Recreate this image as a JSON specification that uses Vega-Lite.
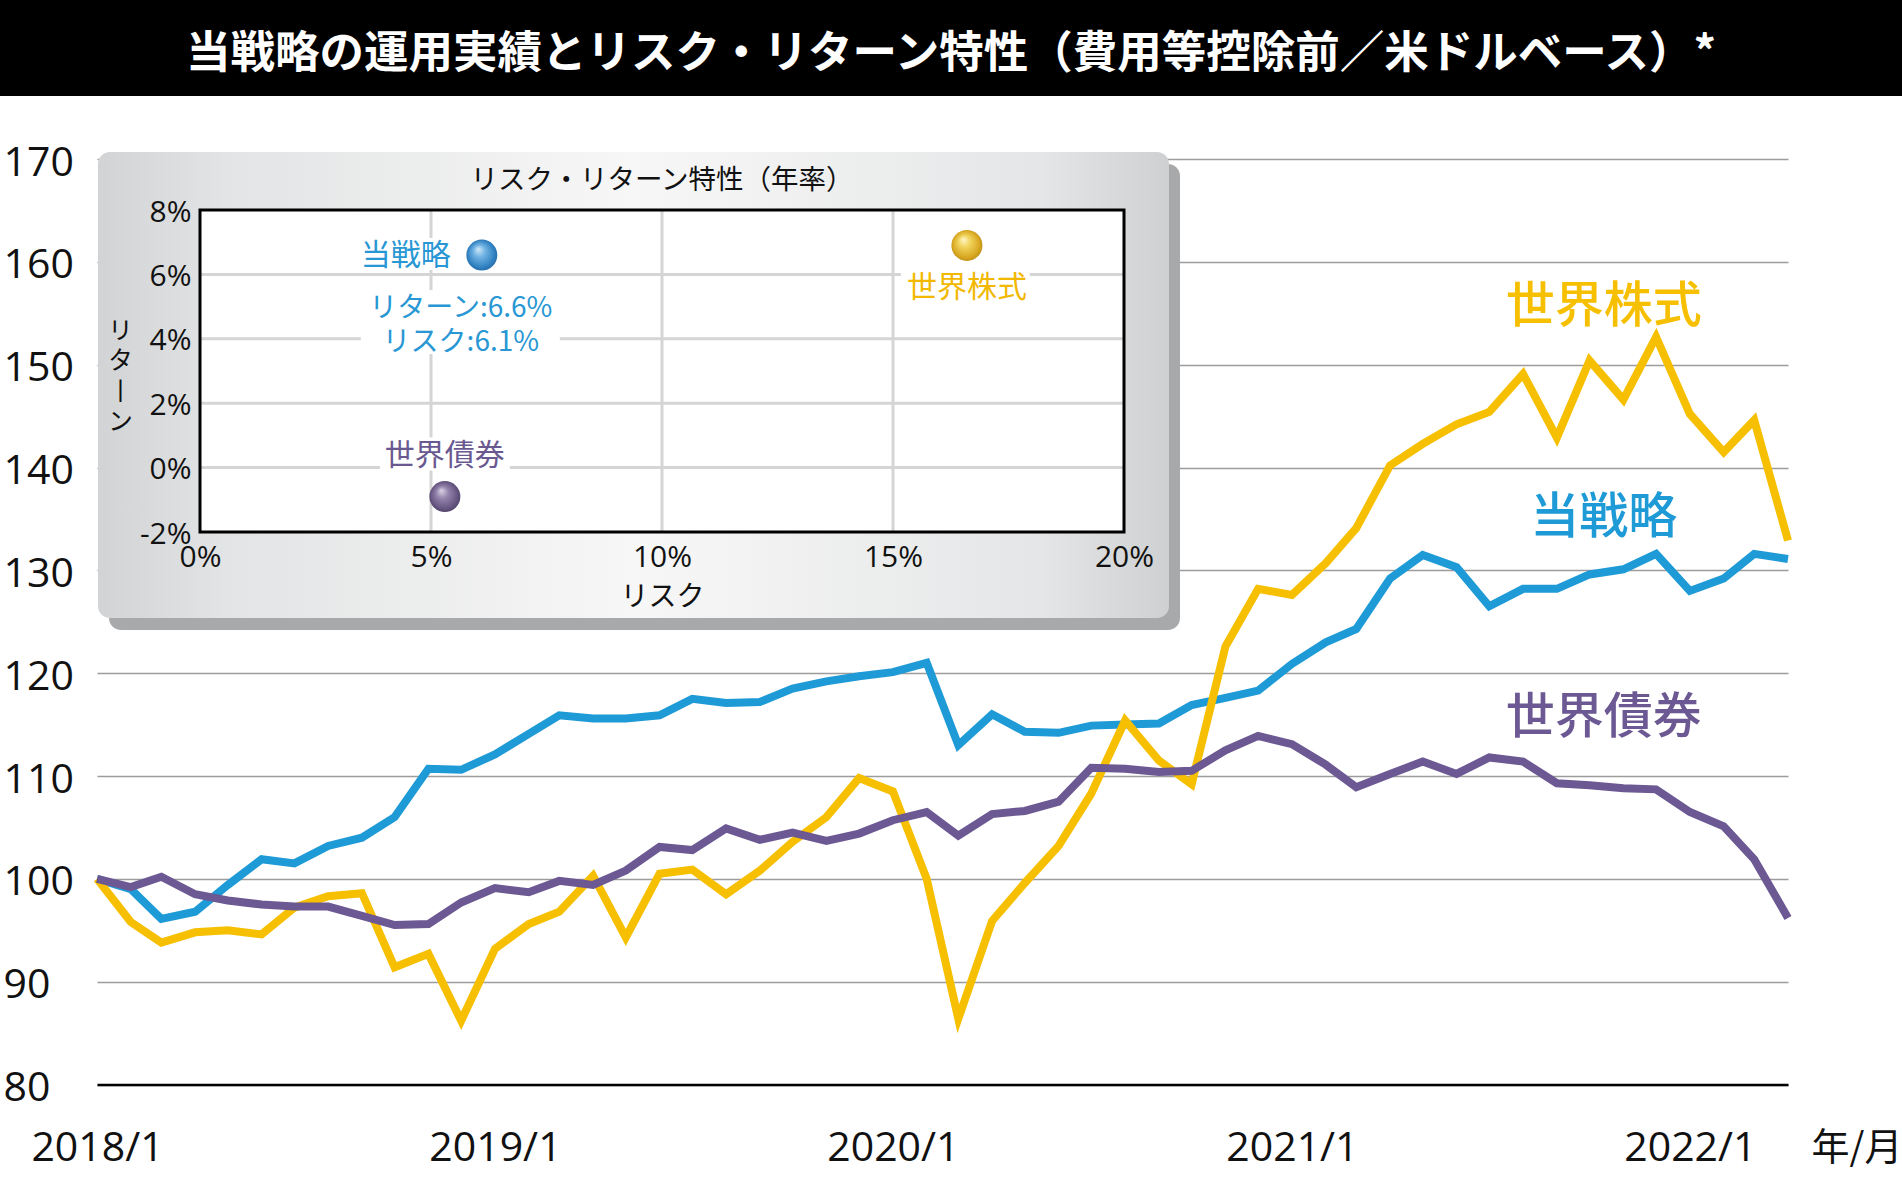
{
  "$schema": "https://vega.github.io/schema/vega-lite/v6.json",
  "padding": 0,
  "spacing": 0,
  "bounds": "flush",
  "config": {
    "view": {"stroke": null},
    "font": "Open Sans",
    "axis": {"labelFont": "Open Sans", "titleFont": "Noto Sans CJK JP", "labelColor": "#111111", "titleColor": "#111111"}
  },
  "datasets": {
    "perf": [
      {"date":"2018-01-01","s":"当戦略","v":100.0},{"date":"2018-02-01","s":"当戦略","v":99.0},{"date":"2018-03-01","s":"当戦略","v":96.1},{"date":"2018-04-01","s":"当戦略","v":96.8},{"date":"2018-05-01","s":"当戦略","v":99.4},{"date":"2018-06-01","s":"当戦略","v":101.9},{"date":"2018-07-01","s":"当戦略","v":101.5},{"date":"2018-08-01","s":"当戦略","v":103.2},{"date":"2018-09-01","s":"当戦略","v":104.0},{"date":"2018-10-01","s":"当戦略","v":106.0},{"date":"2018-11-01","s":"当戦略","v":110.7},{"date":"2018-12-01","s":"当戦略","v":110.6},
      {"date":"2019-01-01","s":"当戦略","v":112.1},{"date":"2019-02-01","s":"当戦略","v":114.1},{"date":"2019-03-01","s":"当戦略","v":115.9},{"date":"2019-04-01","s":"当戦略","v":115.6},{"date":"2019-05-01","s":"当戦略","v":115.6},{"date":"2019-06-01","s":"当戦略","v":115.9},{"date":"2019-07-01","s":"当戦略","v":117.5},{"date":"2019-08-01","s":"当戦略","v":117.1},{"date":"2019-09-01","s":"当戦略","v":117.2},{"date":"2019-10-01","s":"当戦略","v":118.5},{"date":"2019-11-01","s":"当戦略","v":119.2},{"date":"2019-12-01","s":"当戦略","v":119.7},
      {"date":"2020-01-01","s":"当戦略","v":120.1},{"date":"2020-02-01","s":"当戦略","v":121.0},{"date":"2020-03-01","s":"当戦略","v":113.0},{"date":"2020-04-01","s":"当戦略","v":116.0},{"date":"2020-05-01","s":"当戦略","v":114.3},{"date":"2020-06-01","s":"当戦略","v":114.2},{"date":"2020-07-01","s":"当戦略","v":114.9},{"date":"2020-08-01","s":"当戦略","v":115.0},{"date":"2020-09-01","s":"当戦略","v":115.1},{"date":"2020-10-01","s":"当戦略","v":116.9},{"date":"2020-11-01","s":"当戦略","v":117.6},{"date":"2020-12-01","s":"当戦略","v":118.3},
      {"date":"2021-01-01","s":"当戦略","v":120.9},{"date":"2021-02-01","s":"当戦略","v":123.0},{"date":"2021-03-01","s":"当戦略","v":124.3},{"date":"2021-04-01","s":"当戦略","v":129.2},{"date":"2021-05-01","s":"当戦略","v":131.5},{"date":"2021-06-01","s":"当戦略","v":130.3},{"date":"2021-07-01","s":"当戦略","v":126.5},{"date":"2021-08-01","s":"当戦略","v":128.2},{"date":"2021-09-01","s":"当戦略","v":128.2},{"date":"2021-10-01","s":"当戦略","v":129.6},{"date":"2021-11-01","s":"当戦略","v":130.1},{"date":"2021-12-01","s":"当戦略","v":131.6},
      {"date":"2022-01-01","s":"当戦略","v":128.0},{"date":"2022-02-01","s":"当戦略","v":129.2},{"date":"2022-03-01","s":"当戦略","v":131.6},{"date":"2022-04-01","s":"当戦略","v":131.1},
      {"date":"2018-01-01","s":"世界株式","v":100.0},{"date":"2018-02-01","s":"世界株式","v":95.8},{"date":"2018-03-01","s":"世界株式","v":93.8},{"date":"2018-04-01","s":"世界株式","v":94.8},{"date":"2018-05-01","s":"世界株式","v":95.0},{"date":"2018-06-01","s":"世界株式","v":94.6},{"date":"2018-07-01","s":"世界株式","v":97.2},{"date":"2018-08-01","s":"世界株式","v":98.3},{"date":"2018-09-01","s":"世界株式","v":98.6},{"date":"2018-10-01","s":"世界株式","v":91.4},{"date":"2018-11-01","s":"世界株式","v":92.7},{"date":"2018-12-01","s":"世界株式","v":86.2},
      {"date":"2019-01-01","s":"世界株式","v":93.2},{"date":"2019-02-01","s":"世界株式","v":95.6},{"date":"2019-03-01","s":"世界株式","v":96.8},{"date":"2019-04-01","s":"世界株式","v":100.3},{"date":"2019-05-01","s":"世界株式","v":94.3},{"date":"2019-06-01","s":"世界株式","v":100.5},{"date":"2019-07-01","s":"世界株式","v":100.9},{"date":"2019-08-01","s":"世界株式","v":98.5},{"date":"2019-09-01","s":"世界株式","v":100.8},{"date":"2019-10-01","s":"世界株式","v":103.6},{"date":"2019-11-01","s":"世界株式","v":106.0},{"date":"2019-12-01","s":"世界株式","v":109.8},
      {"date":"2020-01-01","s":"世界株式","v":108.5},{"date":"2020-02-01","s":"世界株式","v":100.0},{"date":"2020-03-01","s":"世界株式","v":86.4},{"date":"2020-04-01","s":"世界株式","v":95.9},{"date":"2020-05-01","s":"世界株式","v":99.6},{"date":"2020-06-01","s":"世界株式","v":103.2},{"date":"2020-07-01","s":"世界株式","v":108.3},{"date":"2020-08-01","s":"世界株式","v":115.4},{"date":"2020-09-01","s":"世界株式","v":111.5},{"date":"2020-10-01","s":"世界株式","v":109.2},{"date":"2020-11-01","s":"世界株式","v":122.6},{"date":"2020-12-01","s":"世界株式","v":128.2},
      {"date":"2021-01-01","s":"世界株式","v":127.6},{"date":"2021-02-01","s":"世界株式","v":130.7},{"date":"2021-03-01","s":"世界株式","v":134.1},{"date":"2021-04-01","s":"世界株式","v":140.2},{"date":"2021-05-01","s":"世界株式","v":142.3},{"date":"2021-06-01","s":"世界株式","v":144.2},{"date":"2021-07-01","s":"世界株式","v":145.4},{"date":"2021-08-01","s":"世界株式","v":149.1},{"date":"2021-09-01","s":"世界株式","v":142.9},{"date":"2021-10-01","s":"世界株式","v":150.4},{"date":"2021-11-01","s":"世界株式","v":146.6},{"date":"2021-12-01","s":"世界株式","v":152.7},
      {"date":"2022-01-01","s":"世界株式","v":145.2},{"date":"2022-02-01","s":"世界株式","v":141.5},{"date":"2022-03-01","s":"世界株式","v":144.6},{"date":"2022-04-01","s":"世界株式","v":132.9},
      {"date":"2018-01-01","s":"世界債券","v":100.0},{"date":"2018-02-01","s":"世界債券","v":99.2},{"date":"2018-03-01","s":"世界債券","v":100.2},{"date":"2018-04-01","s":"世界債券","v":98.5},{"date":"2018-05-01","s":"世界債券","v":97.9},{"date":"2018-06-01","s":"世界債券","v":97.5},{"date":"2018-07-01","s":"世界債券","v":97.3},{"date":"2018-08-01","s":"世界債券","v":97.3},{"date":"2018-09-01","s":"世界債券","v":96.4},{"date":"2018-10-01","s":"世界債券","v":95.5},{"date":"2018-11-01","s":"世界債券","v":95.6},{"date":"2018-12-01","s":"世界債券","v":97.7},
      {"date":"2019-01-01","s":"世界債券","v":99.1},{"date":"2019-02-01","s":"世界債券","v":98.7},{"date":"2019-03-01","s":"世界債券","v":99.8},{"date":"2019-04-01","s":"世界債券","v":99.4},{"date":"2019-05-01","s":"世界債券","v":100.8},{"date":"2019-06-01","s":"世界債券","v":103.1},{"date":"2019-07-01","s":"世界債券","v":102.8},{"date":"2019-08-01","s":"世界債券","v":104.9},{"date":"2019-09-01","s":"世界債券","v":103.8},{"date":"2019-10-01","s":"世界債券","v":104.5},{"date":"2019-11-01","s":"世界債券","v":103.7},{"date":"2019-12-01","s":"世界債券","v":104.4},
      {"date":"2020-01-01","s":"世界債券","v":105.7},{"date":"2020-02-01","s":"世界債券","v":106.5},{"date":"2020-03-01","s":"世界債券","v":104.2},{"date":"2020-04-01","s":"世界債券","v":106.3},{"date":"2020-05-01","s":"世界債券","v":106.6},{"date":"2020-06-01","s":"世界債券","v":107.5},{"date":"2020-07-01","s":"世界債券","v":110.8},{"date":"2020-08-01","s":"世界債券","v":110.7},{"date":"2020-09-01","s":"世界債券","v":110.4},{"date":"2020-10-01","s":"世界債券","v":110.5},{"date":"2020-11-01","s":"世界債券","v":112.5},{"date":"2020-12-01","s":"世界債券","v":113.9},
      {"date":"2021-01-01","s":"世界債券","v":113.1},{"date":"2021-02-01","s":"世界債券","v":111.1},{"date":"2021-03-01","s":"世界債券","v":108.9},{"date":"2021-04-01","s":"世界債券","v":110.2},{"date":"2021-05-01","s":"世界債券","v":111.4},{"date":"2021-06-01","s":"世界債券","v":110.2},{"date":"2021-07-01","s":"世界債券","v":111.8},{"date":"2021-08-01","s":"世界債券","v":111.4},{"date":"2021-09-01","s":"世界債券","v":109.3},{"date":"2021-10-01","s":"世界債券","v":109.1},{"date":"2021-11-01","s":"世界債券","v":108.8},{"date":"2021-12-01","s":"世界債券","v":108.7},
      {"date":"2022-01-01","s":"世界債券","v":106.5},{"date":"2022-02-01","s":"世界債券","v":105.1},{"date":"2022-03-01","s":"世界債券","v":101.9},{"date":"2022-04-01","s":"世界債券","v":96.2}
    ],
    "seriesLabels": [
      {"s": "世界株式", "date": "2021-10-14", "v": 155.6},
      {"s": "当戦略", "date": "2021-10-14", "v": 135.1},
      {"s": "世界債券", "date": "2021-10-14", "v": 115.6}
    ],
    "rr": [
      {"name": "当戦略", "risk": 6.1, "ret": 6.6, "note": "リターン:6.6%\nリスク:6.1%"},
      {"name": "世界株式", "risk": 16.6, "ret": 6.9, "note": ""},
      {"name": "世界債券", "risk": 5.3, "ret": -0.9, "note": ""}
    ]
  },
  "vconcat": [
    {
      "width": 1902,
      "height": 96,
      "view": {"fill": "#000000", "stroke": null},
      "data": {"values": [{"title": "当戦略の運用実績とリスク・リターン特性（費用等控除前／米ドルベース）*"}]},
      "mark": {"type": "text", "color": "#ffffff", "font": "Noto Sans CJK JP", "fontSize": 44.5, "fontWeight": "bold", "baseline": "middle", "align": "center", "dy": 6.5},
      "encoding": {"text": {"field": "title", "type": "nominal"}}
    },
    {
      "width": 1902,
      "height": 1105,
      "layer": [
        {
          "data": {"name": "perf"},
          "layer": [
            {
              "mark": {"type": "line", "strokeWidth": 8, "strokeJoin": "miter", "strokeCap": "butt"},
              "encoding": {
                "x": {
                  "field": "date", "type": "temporal",
                  "scale": {"type": "utc", "domain": [{"year": 2018, "month": 1, "date": 1, "utc": true}, {"year": 2022, "month": 4, "date": 1, "utc": true}], "range": [97, 1788], "nice": false},
                  "axis": {
                    "orient": "bottom", "offset": -116.5, "zindex": 1,
                    "values": [{"year": 2018, "month": 1, "date": 1, "utc": true}, {"year": 2019, "month": 1, "date": 1, "utc": true}, {"year": 2020, "month": 1, "date": 1, "utc": true}, {"year": 2021, "month": 1, "date": 1, "utc": true}, {"year": 2022, "month": 1, "date": 1, "utc": true}],
                    "labelExpr": "utcFormat(datum.value, '%Y/%-m')",
                    "grid": false, "ticks": false, "domain": true, "domainColor": "#000000", "domainWidth": 2.5,
                    "labelFontSize": 41, "labelPadding": 44, "labelFlush": false, "labelOverlap": false,
                    "title": "年/月", "titleFontSize": 38, "titleFontWeight": "normal", "titleX": 1811, "titleY": 64, "titleAlign": "left", "titleBaseline": "middle", "titleAngle": 0
                  }
                },
                "y": {
                  "field": "v", "type": "quantitative",
                  "scale": {"domain": [80, 170], "range": [988.5, 63], "nice": false, "zero": false},
                  "axis": {
                    "orient": "left", "values": [80, 90, 100, 110, 120, 130, 140, 150, 160, 170],
                    "grid": true, "gridColor": "#9c9c9c", "gridWidth": 1.5, "domain": false, "ticks": false,
                    "labelAlign": "left", "labelPadding": -3, "labelOffset": 4, "labelFontSize": 41, "labelOverlap": false,
                    "title": null
                  }
                },
                "color": {
                  "field": "s", "type": "nominal",
                  "scale": {"domain": ["当戦略", "世界株式", "世界債券"], "range": ["#1e9ad6", "#f6bf00", "#6c5892"]},
                  "legend": null
                }
              }
            },
            {
              "data": {"name": "seriesLabels"},
              "mark": {"type": "text", "font": "Noto Sans CJK JP", "fontSize": 49, "fontWeight": 500, "align": "center", "baseline": "middle"},
              "encoding": {
                "x": {"field": "date", "type": "temporal"},
                "y": {"field": "v", "type": "quantitative"},
                "text": {"field": "s", "type": "nominal"},
                "color": {"field": "s", "type": "nominal", "legend": null}
              }
            }
          ]
        },
        {
          "data": {"values": [{}]},
          "layer": [
            {
              "mark": {"type": "rect", "fill": "#a8a9aa", "cornerRadius": 12, "xOffset": 11, "x2Offset": 11, "yOffset": 12, "y2Offset": 12},
              "encoding": {"x": {"datum": -2.208}, "x2": {"datum": 20.974}, "y": {"datum": 9.801}, "y2": {"datum": -4.671}}
            },
            {
              "mark": {"type": "rect", "cornerRadius": 12, "fill": {"gradient": "linear", "x1": 0, "y1": 0, "x2": 1, "y2": 0, "stops": [{"offset": 0, "color": "#d2d3d4"}, {"offset": 0.12, "color": "#e3e4e5"}, {"offset": 0.5, "color": "#f7f7f7"}, {"offset": 0.88, "color": "#e5e6e7"}, {"offset": 1, "color": "#cfd0d1"}]}},
              "encoding": {"x": {"datum": -2.208}, "x2": {"datum": 20.974}, "y": {"datum": 9.801}, "y2": {"datum": -4.671}}
            },
            {
              "mark": {"type": "rect", "fill": "#ffffff"},
              "encoding": {"x": {"datum": 0}, "x2": {"datum": 20}, "y": {"datum": -2}, "y2": {"datum": 8}}
            },
            {
              "data": {"values": [{"v": 5}, {"v": 10}, {"v": 15}]},
              "mark": {"type": "rule", "color": "#d5d5d5", "strokeWidth": 3},
              "encoding": {
                "x": {
                  "field": "v", "type": "quantitative",
                  "scale": {"domain": [0, 20], "range": [200, 1124], "nice": false, "zero": false},
                  "axis": {
                    "orient": "bottom", "offset": -669, "zindex": 1, "values": [0, 5, 10, 15, 20],
                    "labelExpr": "datum.value + '%'", "grid": false, "ticks": false, "domain": false,
                    "labelFontSize": 30, "labelPadding": 10.7, "labelFlush": false, "labelOverlap": false,
                    "title": "リスク", "titleFontSize": 28, "titleFontWeight": "normal", "titleY": 51, "titleBaseline": "top"
                  }
                },
                "y": {"datum": -2},
                "y2": {"datum": 8}
              }
            },
            {
              "data": {"values": [{"v": 0}, {"v": 2}, {"v": 4}, {"v": 6}]},
              "mark": {"type": "rule", "color": "#d5d5d5", "strokeWidth": 3},
              "encoding": {
                "y": {
                  "field": "v", "type": "quantitative",
                  "scale": {"domain": [-2, 8], "range": [436, 114], "nice": false, "zero": false},
                  "axis": {
                    "orient": "left", "offset": -200, "zindex": 1, "values": [-2, 0, 2, 4, 6, 8],
                    "labelExpr": "datum.value + '%'", "grid": false, "ticks": false, "domain": false,
                    "labelFontSize": 30, "labelPadding": 9, "labelOffset": 2, "labelOverlap": false,
                    "title": ["リ", "タ", "丨", "ン"], "titleFontSize": 24.5, "titleFontWeight": "normal", "titleAngle": 0,
                    "titleX": -80, "titleY": 223, "titleAlign": "center", "titleBaseline": "top", "titleLineHeight": 30.5
                  }
                },
                "x": {"datum": 0},
                "x2": {"datum": 20}
              }
            },
            {
              "mark": {"type": "rect", "filled": false, "stroke": "#000000", "strokeWidth": 3},
              "encoding": {"x": {"datum": 0}, "x2": {"datum": 20}, "y": {"datum": -2}, "y2": {"datum": 8}}
            },
            {
              "mark": {"type": "text", "font": "Noto Sans CJK JP", "fontSize": 27.5, "color": "#111111", "align": "center", "baseline": "middle"},
              "encoding": {"x": {"datum": 10}, "y": {"datum": 8.894}, "text": {"value": "リスク・リターン特性（年率）"}}
            },
            {
              "data": {"name": "rr"},
              "transform": [{"filter": "datum.name === '当戦略'"}],
              "mark": {"type": "rect", "fill": "#ffffff", "xOffset": -128, "x2Offset": -26, "yOffset": -17, "y2Offset": 15},
              "encoding": {"x": {"field": "risk", "type": "quantitative"}, "x2": {"field": "risk"}, "y": {"field": "ret", "type": "quantitative"}, "y2": {"field": "ret"}}
            },
            {
              "data": {"name": "rr"},
              "transform": [{"filter": "datum.name === '当戦略'"}],
              "mark": {"type": "rect", "fill": "#ffffff", "xOffset": -121, "x2Offset": 78, "yOffset": 35, "y2Offset": 99},
              "encoding": {"x": {"field": "risk", "type": "quantitative"}, "x2": {"field": "risk"}, "y": {"field": "ret", "type": "quantitative"}, "y2": {"field": "ret"}}
            },
            {
              "data": {"name": "rr"},
              "transform": [{"filter": "datum.name === '世界株式'"}],
              "mark": {"type": "rect", "fill": "#ffffff", "xOffset": -66, "x2Offset": 63, "yOffset": 25, "y2Offset": 59},
              "encoding": {"x": {"field": "risk", "type": "quantitative"}, "x2": {"field": "risk"}, "y": {"field": "ret", "type": "quantitative"}, "y2": {"field": "ret"}}
            },
            {
              "data": {"name": "rr"},
              "transform": [{"filter": "datum.name === '世界債券'"}],
              "mark": {"type": "rect", "fill": "#ffffff", "xOffset": -65, "x2Offset": 65, "yOffset": -59, "y2Offset": -26},
              "encoding": {"x": {"field": "risk", "type": "quantitative"}, "x2": {"field": "risk"}, "y": {"field": "ret", "type": "quantitative"}, "y2": {"field": "ret"}}
            },
            {
              "data": {"name": "rr"},
              "transform": [{"filter": "datum.name === '当戦略'"}],
              "mark": {"type": "text", "font": "Noto Sans CJK JP", "fontSize": 30, "align": "right", "baseline": "middle", "dx": -31, "dy": 1, "color": "#2897d4"},
              "encoding": {"x": {"field": "risk", "type": "quantitative"}, "y": {"field": "ret", "type": "quantitative"}, "text": {"field": "name", "type": "nominal"}}
            },
            {
              "data": {"name": "rr"},
              "transform": [{"filter": "datum.name === '当戦略'"}],
              "mark": {"type": "text", "font": "Noto Sans CJK JP", "fontSize": 28, "align": "center", "baseline": "middle", "dx": -21, "dy": 54, "lineBreak": "\n", "lineHeight": 34, "color": "#2897d4"},
              "encoding": {"x": {"field": "risk", "type": "quantitative"}, "y": {"field": "ret", "type": "quantitative"}, "text": {"field": "note", "type": "nominal"}}
            },
            {
              "data": {"name": "rr"},
              "transform": [{"filter": "datum.name === '世界株式'"}],
              "mark": {"type": "text", "font": "Noto Sans CJK JP", "fontSize": 30, "align": "center", "baseline": "middle", "dy": 43, "color": "#f2b800"},
              "encoding": {"x": {"field": "risk", "type": "quantitative"}, "y": {"field": "ret", "type": "quantitative"}, "text": {"field": "name", "type": "nominal"}}
            },
            {
              "data": {"name": "rr"},
              "transform": [{"filter": "datum.name === '世界債券'"}],
              "mark": {"type": "text", "font": "Noto Sans CJK JP", "fontSize": 30, "align": "center", "baseline": "middle", "dy": -41, "color": "#6a5890"},
              "encoding": {"x": {"field": "risk", "type": "quantitative"}, "y": {"field": "ret", "type": "quantitative"}, "text": {"field": "name", "type": "nominal"}}
            },
            {
              "data": {"name": "rr"},
              "transform": [{"filter": "datum.name === '当戦略'"}],
              "mark": {"type": "circle", "size": 960, "opacity": 1, "fill": {"gradient": "radial", "x1": 0.38, "y1": 0.3, "r1": 0, "x2": 0.5, "y2": 0.5, "r2": 0.55, "stops": [{"offset": 0, "color": "#d3eaf8"}, {"offset": 0.35, "color": "#72b4e3"}, {"offset": 0.8, "color": "#2f80c0"}, {"offset": 1, "color": "#2466a0"}]}},
              "encoding": {"x": {"field": "risk", "type": "quantitative"}, "y": {"field": "ret", "type": "quantitative"}}
            },
            {
              "data": {"name": "rr"},
              "transform": [{"filter": "datum.name === '世界株式'"}],
              "mark": {"type": "circle", "size": 960, "opacity": 1, "fill": {"gradient": "radial", "x1": 0.38, "y1": 0.3, "r1": 0, "x2": 0.5, "y2": 0.5, "r2": 0.55, "stops": [{"offset": 0, "color": "#fff6cc"}, {"offset": 0.35, "color": "#f1d35c"}, {"offset": 0.8, "color": "#d7a61f"}, {"offset": 1, "color": "#b58713"}]}},
              "encoding": {"x": {"field": "risk", "type": "quantitative"}, "y": {"field": "ret", "type": "quantitative"}}
            },
            {
              "data": {"name": "rr"},
              "transform": [{"filter": "datum.name === '世界債券'"}],
              "mark": {"type": "circle", "size": 960, "opacity": 1, "fill": {"gradient": "radial", "x1": 0.38, "y1": 0.3, "r1": 0, "x2": 0.5, "y2": 0.5, "r2": 0.55, "stops": [{"offset": 0, "color": "#dcd5e6"}, {"offset": 0.35, "color": "#9585ad"}, {"offset": 0.8, "color": "#65547f"}, {"offset": 1, "color": "#4b3e64"}]}},
              "encoding": {"x": {"field": "risk", "type": "quantitative"}, "y": {"field": "ret", "type": "quantitative"}}
            }
          ]
        }
      ],
      "resolve": {"scale": {"x": "independent", "y": "independent"}}
    }
  ]
}
